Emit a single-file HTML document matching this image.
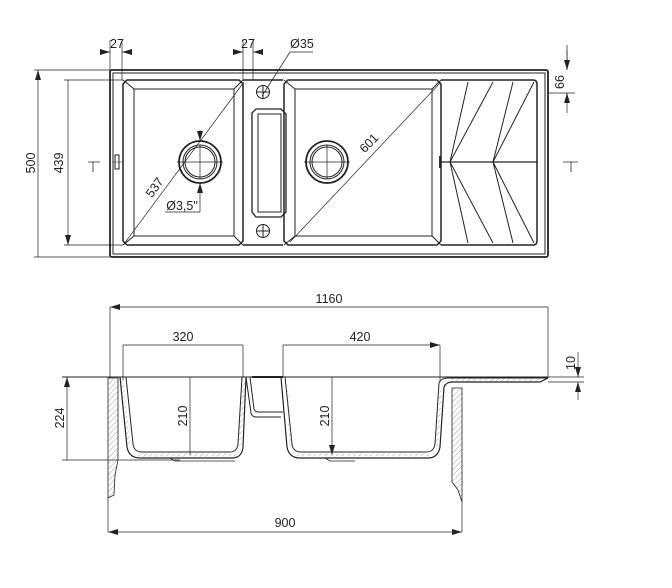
<!DOCTYPE html>
<html><head><meta charset="utf-8"><style>
html,body{margin:0;padding:0;background:#fff;}
svg{display:block;}
text{font-family:"Liberation Sans Narrow","Liberation Sans",sans-serif;font-size:12.5px;fill:#222;}
</style></head><body>
<svg width="672" height="588" viewBox="0 0 672 588" xmlns="http://www.w3.org/2000/svg">
<defs>
<marker id="a" viewBox="0 0 10 6" refX="10" refY="3" markerWidth="10" markerHeight="6" orient="auto-start-reverse" markerUnits="userSpaceOnUse"><path d="M0,0L10,3L0,6z" fill="#222"/></marker>
<pattern id="h" width="4" height="4" patternUnits="userSpaceOnUse" patternTransform="rotate(45)"><line x1="0" y1="0" x2="0" y2="4" stroke="#888" stroke-width="0.8"/></pattern>
</defs>
<g fill="none" stroke="#222" stroke-width="1">
<rect x="110" y="70" width="438" height="187" rx="2" stroke-width="1.8"/>
<rect x="113" y="73" width="432" height="181"/>
<path d="M127,80H239L243,84V241L239,245H127L123,241V84Z" stroke-width="1.5"/>
<path d="M134,89H234V236H134Z"/>
<path d="M123,80L134,89M243,80L234,89M123,245L134,236M243,245L234,236"/>
<path d="M243,80H283M243,245H283" stroke-width="1.5"/>
<circle cx="263" cy="92" r="6.5"/><path d="M256,92H270M263,85V99"/>
<circle cx="263" cy="231" r="6.5"/><path d="M256,231H270M263,224V238"/>
<path d="M256,109H281L286,114V212L281,217H256L252,212V113Z" stroke-width="1.3"/>
<path d="M258,114H281V212H258Z"/>
<path d="M288,80H437L441,84V241L437,245H288L284,241V84Z" stroke-width="1.5"/>
<path d="M295,89H432V236H295Z"/>
<path d="M284,80L295,89M441,80L432,89M284,245L295,236M441,245L432,236"/>
<path d="M441,80H533Q537,80 537,84V241Q537,245 533,245H441" stroke-width="1.5"/>
<path d="M440,162H537" stroke-width="1.3"/>
<path d="M440,156V168" stroke-width="1.8"/>
<path d="M468,82L450,162L468,243M493,82L450,162L493,243M513,82L493,162L513,243M534,82L493,162L534,243"/>
<circle cx="200" cy="162" r="21" stroke-width="1.8"/><circle cx="200" cy="162" r="17"/><circle cx="200" cy="162" r="15"/>
<circle cx="327" cy="162" r="21" stroke-width="1.8"/><circle cx="327" cy="162" r="17"/><circle cx="327" cy="162" r="15"/>
<path d="M177,162H223M200,145V179M304,162H350M327,145V179" stroke-width="0.7"/>
<path d="M113,162H123" stroke-width="0.5"/>
<rect x="115" y="155" width="4" height="14" stroke-width="1"/>
<path d="M124,244L244,82M290,242L440,83" stroke-width="0.7"/>
<path d="M110,40V70M122,40V80M243,40V80M253,40V80" stroke-width="0.7"/>
<path d="M100,52H110" marker-end="url(#a)" stroke-width="0.7"/>
<path d="M132,52H122" marker-end="url(#a)" stroke-width="0.7"/>
<path d="M233,52H243" marker-end="url(#a)" stroke-width="0.7"/>
<path d="M263,52H253" marker-end="url(#a)" stroke-width="0.7"/>
<path d="M262,96L290,52H313" stroke-width="0.7"/>
<path d="M34,70H110M34,257H110M64,80H123M64,245H123" stroke-width="0.7"/>
<path d="M38,70V257M68,80V245" marker-start="url(#a)" marker-end="url(#a)" stroke-width="0.7"/>
<path d="M548,93H575M567,45V70" stroke-width="0.7"/>
<path d="M567,50V70" marker-end="url(#a)" stroke-width="0.7"/>
<path d="M567,113V93" marker-end="url(#a)" stroke-width="0.7"/>
<path d="M88,162H100M93,162V172M563,162H578M571,162V172" stroke-width="0.8"/>
<path d="M200,130V141" marker-end="url(#a)" stroke-width="0.7"/>
<path d="M200,212V183" marker-end="url(#a)" stroke-width="0.7"/>
<path d="M165,212H200" stroke-width="0.7"/>

<path d="M110,307V378M548,307V378M123,345V380M243,345V377M283,345V377M440,345V382" stroke-width="0.7"/>
<path d="M110,307H548M123,345H243M283,345H440" marker-start="url(#a)" marker-end="url(#a)" stroke-width="0.7"/>
<path d="M62,377H548" stroke-width="1"/>
<path d="M62,460H180" stroke-width="0.7"/>
<path d="M67,377V460M190,377V455M332,377V455" marker-start="url(#a)" marker-end="url(#a)" stroke-width="0.7"/>
<path d="M108,378H118V460L115,475L114,495L108,498Z" fill="url(#h)" stroke-width="0.8"/>
<path d="M452,388H462V502L458,490L452,482Z" fill="url(#h)" stroke-width="0.8"/>
<path d="M108,498V532M462,502V532" stroke-width="0.7"/>
<path d="M108,532H462" marker-start="url(#a)" marker-end="url(#a)" stroke-width="0.7"/>
<path d="M120,377L127,447Q129,458 140,458H232Q242,458 243,447L246,377" stroke-width="1.2"/>
<path d="M126,377L133,444Q134,452 142,452H230Q237,452 238,444L242,377" stroke-width="1"/>
<path d="M122,380L129,446M244,380L240,446M135,455H236" stroke="url(#h)" stroke-width="3"/>
<path d="M170,458L175,461H235" stroke-width="0.8"/>
<path d="M246,377L251,413Q252,417 256,417H281M250,377L254,409Q255,412 258,412H283" stroke-width="1"/>
<path d="M252,377H283" stroke-width="2"/>
<path d="M281,377L287,447Q289,458 300,458H428Q438,458 440,447L444,387Q446,382 452,382H540L548,378" stroke-width="1.2"/>
<path d="M285,377L292,444Q293,452 301,452H426Q434,452 435,444L439,383Q441,378 448,378H548" stroke-width="1"/>
<path d="M287,390L291,446M441,390L437,446M296,455H432M452,380H538" stroke="url(#h)" stroke-width="2.5"/>
<path d="M325,458L330,461H355" stroke-width="0.8"/>
<path d="M548,377H584M548,382H584" stroke-width="0.7"/>
<path d="M578,352V377" marker-end="url(#a)" stroke-width="0.7"/>
<path d="M578,400V382" marker-end="url(#a)" stroke-width="0.7"/>
</g>
<text x="117" y="48" text-anchor="middle">27</text>
<text x="248" y="48" text-anchor="middle">27</text>
<text x="302" y="48" text-anchor="middle">Ø35</text>
<text transform="translate(35,163) rotate(-90)" text-anchor="middle">500</text>
<text transform="translate(63,163) rotate(-90)" text-anchor="middle">439</text>
<text transform="translate(564,82) rotate(-90)" text-anchor="middle">66</text>
<text transform="translate(158,190) rotate(-54)" text-anchor="middle">537</text>
<text transform="translate(372,146) rotate(-46)" text-anchor="middle">601</text>
<text x="182" y="210" text-anchor="middle">Ø3,5"</text>
<text x="329" y="303" text-anchor="middle">1160</text>
<text x="183" y="341" text-anchor="middle">320</text>
<text x="360" y="341" text-anchor="middle">420</text>
<text transform="translate(64,418) rotate(-90)" text-anchor="middle">224</text>
<text transform="translate(187,416) rotate(-90)" text-anchor="middle">210</text>
<text transform="translate(329,416) rotate(-90)" text-anchor="middle">210</text>
<text transform="translate(575,363) rotate(-90)" text-anchor="middle">10</text>
<text x="285" y="527" text-anchor="middle">900</text>
</svg>
</body></html>
